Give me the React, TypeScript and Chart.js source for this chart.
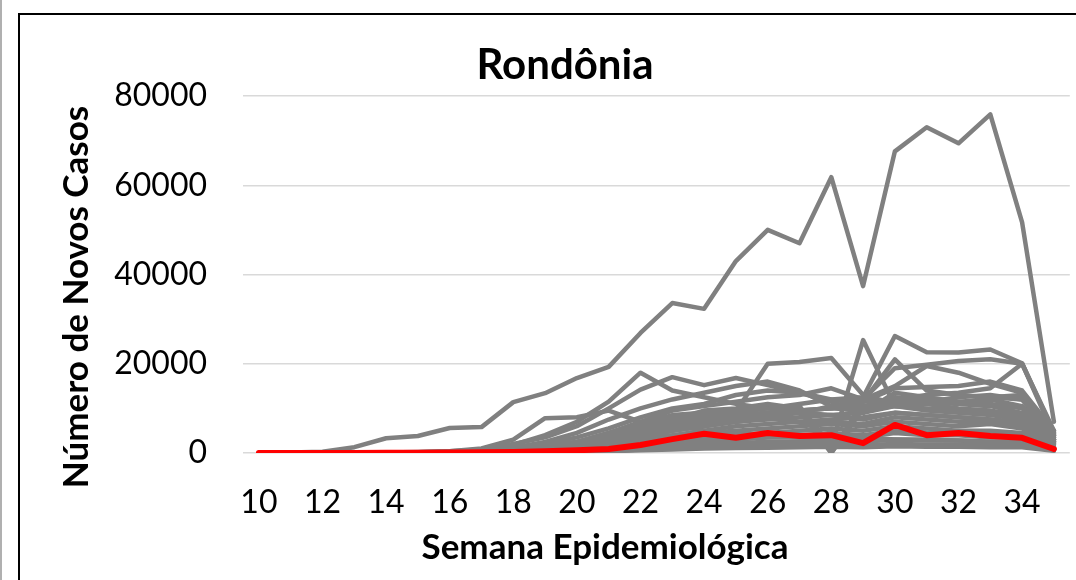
import React, { useEffect, useRef } from "react";
import { Chart, registerables } from "chart.js";

Chart.register(...registerables);

const weeks = [10, 11, 12, 13, 14, 15, 16, 17, 18, 19, 20, 21, 22, 23, 24, 25, 26, 27, 28, 29, 30, 31, 32, 33, 34, 35];
const yTicks = [0, 20000, 40000, 60000, 80000];
const chartTitle = "Rondônia";
const xTitle = "Semana Epidemiológica";
const yTitle = "Número de Novos Casos";

const rondonia = [0, 0, 10, 20, 40, 60, 100, 150, 250, 400, 600, 900, 1800, 3100, 4300, 3400, 4500, 3800, 4000, 2200, 6300, 4000, 4500, 3800, 3400, 900];

const s01 = [0, 100, 300, 1300, 3300, 3800, 5600, 5800, 11400, 13400, 16800, 19300, 26900, 33600, 32300, 43000, 50000, 47000, 61800, 37400, 67600, 73000, 69400, 75900, 51700, 7000];
const s02 = [0, 0, 10, 30, 80, 150, 300, 600, 1800, 4000, 7000, 11500, 18000, 14000, 12500, 11000, 10000, 9000, 8500, 7500, 9000, 8500, 8000, 7500, 6000, 2000];
const s03 = [0, 0, 10, 40, 100, 200, 400, 800, 2000, 3500, 6000, 10000, 14200, 17000, 15200, 16800, 15200, 13500, 11500, 9000, 12500, 12000, 11000, 10500, 9000, 3000];
const s04 = [0, 0, 0, 10, 30, 60, 150, 300, 700, 1500, 2500, 4000, 6000, 7500, 8500, 9300, 20000, 20400, 21300, 13000, 11000, 12000, 11500, 11000, 10000, 3000];
const s05 = [0, 0, 0, 10, 20, 50, 100, 200, 500, 1200, 2500, 4500, 6500, 8000, 9000, 9500, 10000, 10500, 1500, 25300, 10500, 9500, 9000, 8500, 7500, 2500];
const s06 = [0, 0, 0, 10, 20, 40, 80, 150, 400, 900, 1800, 3000, 5000, 7000, 8000, 9000, 10000, 11000, 12000, 12500, 26200, 22600, 22500, 23200, 20100, 4500];
const s07 = [0, 0, 0, 5, 20, 40, 80, 150, 300, 700, 1500, 2500, 4000, 5500, 6500, 7500, 8500, 9500, 10000, 11500, 21000, 14000, 13000, 12500, 12000, 3500];
const s08 = [0, 0, 0, 5, 10, 30, 60, 120, 300, 600, 1200, 2000, 3500, 5000, 6000, 7000, 8000, 9000, 10500, 12000, 19000, 19800, 20600, 21000, 20000, 4000];
const s09 = [0, 0, 0, 10, 30, 60, 120, 250, 600, 1200, 2500, 4500, 7000, 9500, 10500, 11500, 12500, 13000, 14500, 12000, 15000, 19500, 18000, 15500, 13500, 4000];
const s10 = [0, 0, 0, 10, 20, 40, 80, 160, 400, 800, 1600, 3000, 5000, 6500, 7500, 8500, 9000, 9500, 10000, 10500, 12000, 13000, 13500, 14500, 20000, 5000];
const s11 = [0, 0, 0, 20, 50, 100, 200, 400, 1000, 2000, 3500, 5500, 8000, 10000, 11000, 13000, 14000, 13500, 12000, 11500, 14500, 14800, 15000, 16000, 14000, 5000];
const s12 = [0, 0, 10, 30, 60, 120, 250, 500, 1200, 2500, 4500, 7500, 10000, 12000, 13500, 15000, 16000, 14000, 10500, 9000, 13500, 12500, 11500, 12000, 10500, 3500];
const s13 = [0, 0, 0, 10, 50, 150, 400, 1000, 3000, 7800, 8000, 9500, 7000, 6500, 5000, 4500, 4000, 3500, 3000, 3500, 3000, 3000, 2800, 2500, 2200, 800];
const s14 = [0, 0, 0, 10, 20, 50, 100, 200, 500, 1000, 2000, 3500, 5500, 7500, 9500, 10000, 11000, 10000, 0, 11500, 12000, 11500, 11000, 12500, 13000, 4500];
const s15 = [0, 0, 0, 5, 10, 30, 60, 120, 300, 700, 1500, 2500, 4000, 5500, 6500, 7000, 7500, 8000, 8500, 9000, 10500, 11000, 10000, 9500, 8500, 3000];
const s16 = [0, 0, 0, 5, 10, 20, 40, 80, 200, 500, 1000, 1800, 3000, 4000, 5000, 6000, 6500, 7000, 7500, 8000, 9000, 8500, 8000, 7500, 7000, 2500];
const s17 = [0, 0, 0, 5, 10, 20, 40, 80, 200, 400, 800, 1500, 2500, 3500, 4500, 5000, 5500, 6000, 6500, 6000, 7000, 6500, 6000, 6500, 5500, 2000];
const s18 = [0, 0, 0, 5, 10, 20, 40, 80, 150, 300, 700, 1200, 2000, 3000, 3500, 4000, 4500, 5000, 5500, 5000, 6000, 5500, 5000, 5000, 4500, 1500];
const s19 = [0, 0, 0, 0, 5, 10, 20, 50, 100, 250, 500, 900, 1500, 2000, 2500, 3000, 3500, 3500, 4000, 3500, 4500, 4000, 4000, 3500, 3500, 1000];
const s20 = [0, 0, 0, 0, 5, 10, 20, 40, 100, 200, 400, 700, 1000, 1500, 2000, 2200, 2500, 2500, 2800, 2500, 3000, 2800, 2800, 2500, 2500, 800];
const s21 = [0, 0, 0, 0, 5, 10, 20, 40, 80, 150, 300, 500, 800, 1100, 1400, 1500, 1700, 1800, 2000, 1800, 2000, 1900, 1900, 1800, 1700, 600];
const s22 = [0, 0, 0, 5, 10, 20, 50, 100, 250, 600, 1200, 2200, 3500, 5000, 6000, 7000, 8000, 9500, 0, 10000, 11000, 11500, 12500, 13000, 12000, 4000];
const s23 = [0, 0, 0, 5, 10, 30, 60, 150, 400, 900, 2000, 4000, 6500, 8500, 9000, 8500, 8000, 7000, 7000, 6500, 8000, 7500, 7000, 7000, 6500, 2500];
const s24 = [0, 0, 0, 5, 10, 30, 70, 150, 350, 800, 1600, 2800, 4500, 6000, 7000, 8000, 9000, 9500, 10000, 9500, 10500, 10000, 9500, 9000, 8000, 3000];
const s25 = [0, 0, 0, 0, 5, 10, 25, 50, 120, 300, 600, 1000, 1600, 2200, 2800, 3200, 3600, 4000, 4500, 4000, 5000, 4600, 4400, 4200, 3800, 1200];
const s26 = [0, 0, 0, 0, 0, 5, 10, 20, 50, 100, 200, 400, 600, 800, 1000, 1100, 1200, 1300, 1400, 1300, 1500, 1400, 1400, 1300, 1300, 500];

const grayRows = [s01, s02, s03, s04, s05, s06, s07, s08, s09, s10, s11, s12, s13, s14, s15, s16, s17, s18, s19, s20, s21, s22, s23, s24, s25, s26];

const FONT = "Lato";

const textPlugin = {
  id: "customTexts",
  afterDraw(chart: any) {
    const ctx = chart.ctx as CanvasRenderingContext2D;
    ctx.save();
    ctx.fillStyle = "#000";
    ctx.textAlign = "center";
    ctx.textBaseline = "alphabetic";
    ctx.font = `bold 42px ${FONT}`;
    ctx.fillText(chartTitle, 565, 79);
    ctx.font = `bold 35px ${FONT}`;
    ctx.fillText(xTitle, 605, 559);
    ctx.translate(88, 297);
    ctx.rotate(-Math.PI / 2);
    ctx.font = `bold 35px ${FONT}`;
    ctx.fillText(yTitle, 0, 0);
    ctx.restore();
  },
};

export default function App() {
  const ref = useRef<HTMLCanvasElement>(null);
  useEffect(() => {
    const canvas = ref.current;
    if (!canvas) return;
    const datasets: any[] = [
      {
        label: "Rondônia",
        data: rondonia,
        borderColor: "#ff0000",
        borderWidth: 6,
        pointRadius: 0,
        tension: 0,
        borderJoinStyle: "round",
        borderCapStyle: "round",
        fill: false,
      },
      ...grayRows.map((row, i) => ({
        label: "UF " + (i + 1),
        data: row,
        borderColor: "#808080",
        borderWidth: 4.5,
        pointRadius: 0,
        tension: 0,
        borderJoinStyle: "round",
        borderCapStyle: "round",
        fill: false,
      })),
    ];
    const chart = new Chart(canvas, {
      type: "line",
      data: { labels: weeks.map(String), datasets },
      plugins: [textPlugin],
      options: {
        animation: false,
        responsive: false,
        devicePixelRatio: 1,
        layout: { padding: { left: 0, right: 5, top: 96, bottom: 0 } },
        plugins: {
          legend: { display: false },
          tooltip: { enabled: false },
          title: { display: false },
        },
        scales: {
          x: {
            offset: true,
            grid: { display: false },
            border: { display: false },
            ticks: {
              autoSkip: false,
              maxRotation: 0,
              minRotation: 0,
              color: "#000",
              padding: 22,
              font: { family: FONT, size: 32 },
              callback: (_v: any, i: number) => (weeks[i] % 2 === 0 && weeks[i] <= 34 ? String(weeks[i]) : ""),
            },
            afterFit: (s: any) => {
              s.height = 127;
            },
          },
          y: {
            min: 0,
            max: 80000,
            afterBuildTicks: (s: any) => {
              s.ticks = yTicks.map((v) => ({ value: v }));
            },
            grid: { color: "#d9d9d9", lineWidth: 1.5, drawTicks: false },
            border: { display: false },
            ticks: {
              color: "#000",
              padding: 36,
              font: { family: FONT, size: 32 },
              callback: (v: any) => String(v),
            },
            afterFit: (s: any) => {
              s.width = 243;
            },
          },
        },
      },
    });
    return () => chart.destroy();
  }, []);

  return (
    <div style={{ position: "absolute", left: 0, top: 0, width: 1076, height: 580, overflow: "hidden", background: "#fff" }}>
      <div style={{ position: "absolute", left: 0, top: 0, width: 2, height: 580, background: "#b0b0b0" }} />
      <div
        style={{
          position: "absolute",
          left: 18,
          top: 13,
          width: 1100,
          height: 620,
          border: "2px solid #000",
          boxSizing: "border-box",
        }}
      />
      <canvas ref={ref} width={1076} height={580} style={{ position: "absolute", left: 0, top: 0, width: 1076, height: 580 }} />
    </div>
  );
}
